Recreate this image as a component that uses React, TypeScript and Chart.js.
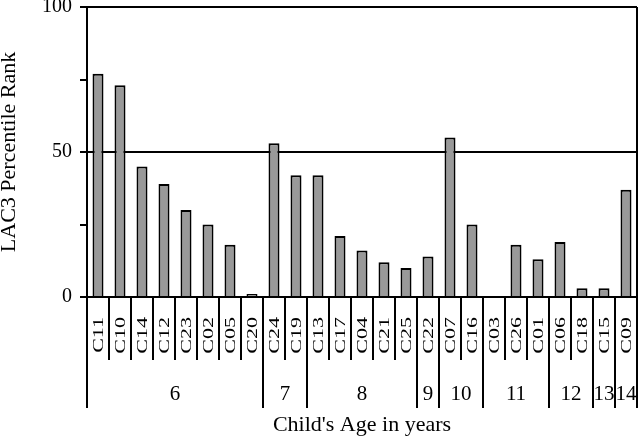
import React, { useEffect, useRef } from "react";
import { Chart, registerables } from "chart.js";

Chart.register(...registerables);

const childIds = ["C11", "C10", "C14", "C12", "C23", "C02", "C05", "C20", "C24", "C19", "C13", "C17", "C04", "C21", "C25", "C22", "C07", "C16", "C03", "C26", "C01", "C06", "C18", "C15", "C09"];
const percentileRanks = [77, 73, 45, 39, 30, 25, 18, 1, 53, 42, 42, 21, 16, 12, 10, 14, 55, 25, 0, 18, 13, 19, 3, 3, 37];
const ageGroups = ["6", "7", "8", "9", "10", "11", "12", "13", "14"];
const ageGroupSizes = [8, 2, 5, 1, 2, 3, 2, 1, 1];
const yLabeledTicks = [0, 50, 100];
const yGridValues = [50, 100];

const FONT = "'Liberation Serif', 'Times New Roman', serif";

const ageGroupPlugin = {
  id: "ageGroupPlugin",
  afterDraw(chart: any) {
    const { ctx, chartArea, scales } = chart;
    const xs = scales.x;
    const n = childIds.length;
    const boundary = (i: number) => {
      if (i <= 0) return chartArea.left;
      if (i >= n) return chartArea.right;
      return (xs.getPixelForValue(i - 1) + xs.getPixelForValue(i)) / 2;
    };
    const bottom = chartArea.bottom;
    ctx.save();
    ctx.strokeStyle = "#000";
    ctx.lineWidth = 2;
    // right border
    ctx.beginPath();
    ctx.moveTo(chartArea.right, chartArea.top);
    ctx.lineTo(chartArea.right, bottom);
    ctx.stroke();
    // category separators
    for (let i = 0; i <= n; i++) {
      const px = boundary(i);
      ctx.beginPath();
      ctx.moveTo(px, bottom);
      ctx.lineTo(px, bottom + 63);
      ctx.stroke();
    }
    // category labels (rotated, condensed)
    const labelSize = 22;
    const squeeze = 0.7;
    const capH = labelSize * 0.66 * squeeze;
    ctx.fillStyle = "#000";
    ctx.font = `${labelSize}px ${FONT}`;
    ctx.textAlign = "right";
    ctx.textBaseline = "alphabetic";
    childIds.forEach((id, i) => {
      const px = xs.getPixelForValue(i);
      ctx.save();
      ctx.translate(px + capH / 2, bottom + 20);
      ctx.rotate(-Math.PI / 2);
      ctx.scale(1, squeeze);
      ctx.fillText(id, 0, 0);
      ctx.restore();
    });
    // group separators and labels
    let start = 0;
    ctx.font = `21px ${FONT}`;
    ctx.textAlign = "center";
    ctx.textBaseline = "middle";
    const drawSep = (i: number) => {
      const px = boundary(i);
      ctx.beginPath();
      ctx.moveTo(px, bottom);
      ctx.lineTo(px, bottom + 111);
      ctx.stroke();
    };
    drawSep(0);
    ageGroups.forEach((g, gi) => {
      const end = start + ageGroupSizes[gi];
      drawSep(end);
      const cx = (boundary(start) + boundary(end)) / 2;
      ctx.fillText(g, cx, bottom + 97);
      start = end;
    });
    ctx.restore();
  },
};

export default function App() {
  const canvasRef = useRef<HTMLCanvasElement | null>(null);

  useEffect(() => {
    const canvas = canvasRef.current;
    if (!canvas) return;
    const chart = new Chart(canvas, {
      type: "bar",
      data: {
        labels: childIds,
        datasets: [
          {
            data: percentileRanks,
            backgroundColor: "#999999",
            borderColor: "#000000",
            borderWidth: 2,
            categoryPercentage: 1,
            barPercentage: 0.5,
          },
        ],
      },
      options: {
        responsive: false,
        animation: false,
        layout: { padding: { top: 7, right: 3, bottom: 3, left: 0 } },
        plugins: {
          legend: { display: false },
          tooltip: { enabled: false },
        },
        scales: {
          x: {
            grid: { display: false },
            border: { display: true, color: "#000", width: 2 },
            ticks: { display: false },
            title: {
              display: true,
              text: "Child's Age in years",
              color: "#000",
              font: { family: FONT, size: 22, lineHeight: 1 },
              padding: 0,
            },
            afterFit: (s: any) => {
              s.height = 139;
              s.paddingLeft = 0;
              s.paddingRight = 0;
            },
          },
          y: {
            min: 0,
            max: 100,
            ticks: {
              stepSize: 25,
              padding: 8,
              color: "#000",
              font: { family: FONT, size: 20, lineHeight: 1 },
              callback: (v: any) => (yLabeledTicks.includes(Number(v)) ? String(v) : ""),
            },
            grid: {
              color: (c: any) => (yGridValues.includes(c.tick?.value) ? "#000" : "rgba(0,0,0,0)"),
              tickColor: "#000",
              tickLength: 7,
              lineWidth: 2,
            },
            border: { display: true, color: "#000", width: 2 },
            title: {
              display: true,
              text: "LAC3 Percentile Rank",
              color: "#000",
              font: { family: FONT, size: 22, lineHeight: 1 },
              padding: { top: -2, bottom: 0 },
            },
            afterFit: (s: any) => {
              s.width = 87;
              s.paddingTop = 0;
              s.paddingBottom = 0;
            },
          },
        },
      },
      plugins: [ageGroupPlugin],
    });
    return () => chart.destroy();
  }, []);

  return (
    <div style={{ position: "fixed", left: 0, top: 0, width: 640, height: 439, background: "#fff" }}>
      <canvas ref={canvasRef} width={640} height={439} style={{ display: "block" }} />
    </div>
  );
}
